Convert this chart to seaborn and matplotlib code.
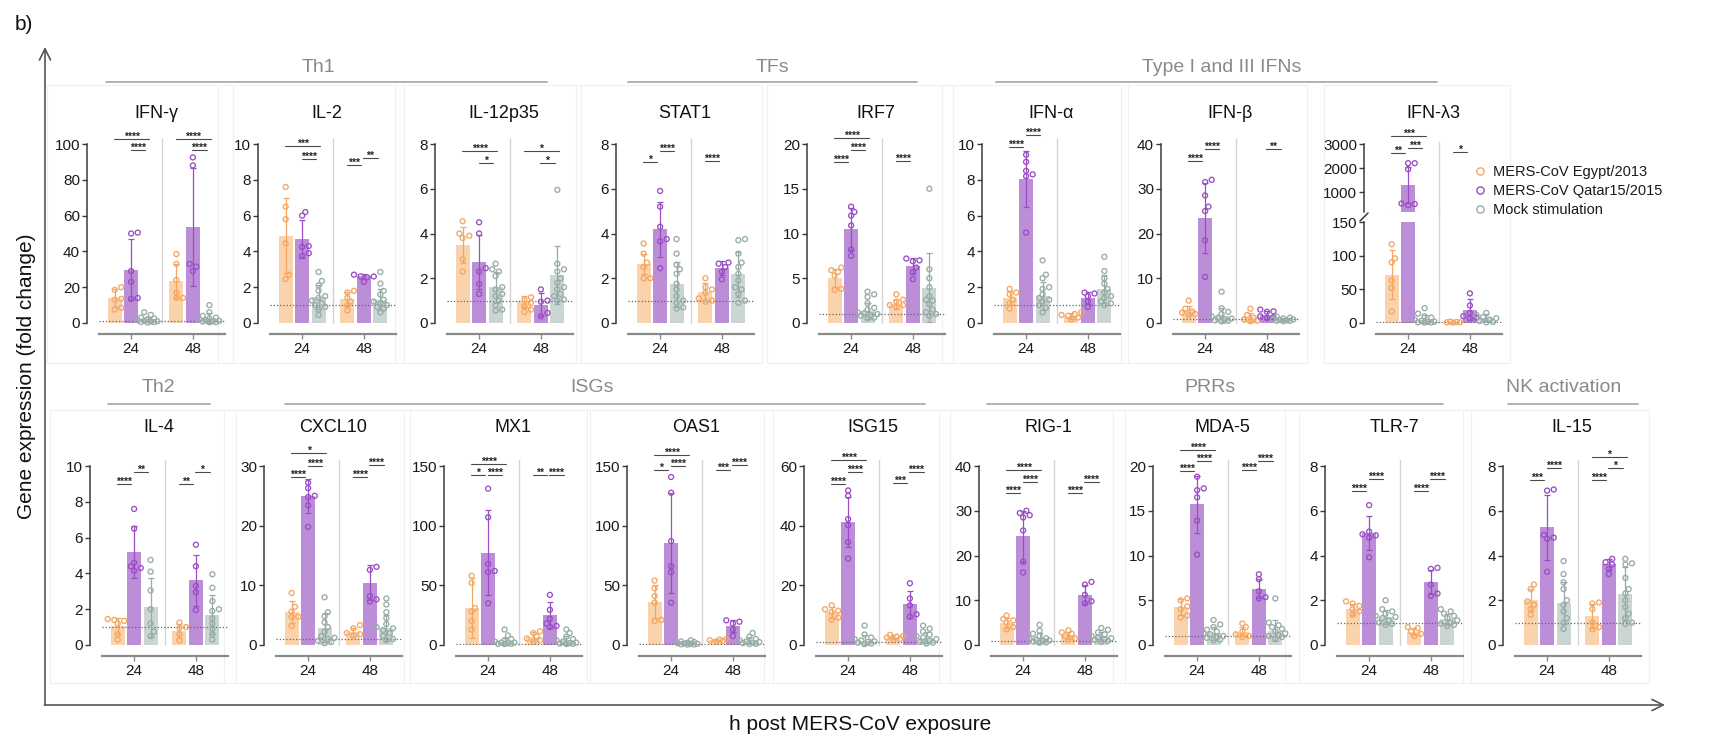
import warnings
warnings.filterwarnings('ignore')
import numpy as np
import pandas as pd
import matplotlib
matplotlib.use('Agg')
import matplotlib.pyplot as plt
from matplotlib.lines import Line2D
from matplotlib.patches import Rectangle
import seaborn as sns

sns.set_style('white')
plt.rcParams['font.family'] = ['Liberation Sans', 'DejaVu Sans']

# ---------------- data ----------------
GROUPS = ['MERS-CoV Egypt/2013', 'MERS-CoV Qatar15/2015', 'Mock stimulation']
TIMES = ['24', '48']
# order inside each gene: Egypt24, Qatar24, Mock24, Egypt48, Qatar48, Mock48

IFNG_PTS = [[20, 18.5, 13.5, 13, 8.5, 7.5], [50.5, 50, 29, 23, 14, 13.5],
            [6, 4.5, 3, 2.5, 2, 1.5, 1.2, 1, 0.8, 0.6, 0.5, 0.3], [38.5, 33, 24, 17, 14, 14],
            [92.5, 88, 33, 31.5, 29], [10, 6, 4, 3, 2.5, 2, 1.5, 1.2, 1, 0.8, 0.5, 0.4]]
IFNG_MEAN = [14, 29.8, 2, 23.3, 53.6, 2.8]
IFNG_SD = [5, 17, 1.6, 9.5, 33, 2.6]
IFNG_SIG = [(0, 0, 2, 102.6, '****'), (0, 1, 2, 96.8, '****'), (1, 0, 2, 103, '****'), (1, 1, 2, 96.8, '****')]

IL2_PTS = [[7.6, 6.5, 5.8, 4.45, 2.7, 2.45], [6.2, 6.0, 4.3, 4.25, 3.9, 3.75],
           [2.85, 2.35, 2.1, 1.8, 1.5, 1.4, 1.25, 1.1, 1.0, 0.9, 0.75, 0.45], [1.8, 1.7, 1.4, 1.2, 1.0, 0.7],
           [2.7, 2.6, 2.6, 2.55, 2.3], [2.85, 2.2, 1.8, 1.6, 1.3, 1.2, 1.1, 1.0, 0.9, 0.8, 0.6]]
IL2_MEAN = [4.88, 4.7, 1.45, 1.35, 2.6, 1.3]
IL2_SD = [2.1, 1.05, 0.65, 0.4, 0.15, 0.6]
IL2_SIG = [(0, 0, 2, 9.87, '***'), (0, 1, 2, 9.18, '****'), (1, 0, 1, 8.85, '***'), (1, 1, 2, 9.22, '**')]

IL12_PTS = [[4.55, 4.0, 3.9, 3.8, 2.85, 2.3], [4.5, 4.0, 2.45, 2.3, 1.75, 1.3],
            [2.65, 2.4, 2.3, 2.1, 1.6, 1.5, 1.3, 1.2, 1.0, 0.8, 0.6, 0.55], [1.15, 1.05, 0.9, 0.75, 0.6, 0.5],
            [1.5, 1.0, 0.95, 0.45, 0.3], [5.95, 2.65, 2.4, 2.3, 2.0, 1.8, 1.6, 1.5, 1.3, 1.2, 1.05, 1.0]]
IL12_MEAN = [3.5, 2.72, 1.6, 0.97, 0.82, 2.15]
IL12_SD = [0.8, 1.2, 0.7, 0.25, 0.5, 1.3]
IL12_SIG = [(0, 0, 2, 7.7, '****'), (0, 1, 2, 7.14, '*'), (1, 0, 2, 7.7, '*'), (1, 1, 2, 7.17, '*')]

STAT1_PTS = [[3.55, 3.1, 2.7, 2.5, 2.0, 2.0], [5.9, 5.2, 4.3, 3.75, 3.65, 2.45],
             [3.75, 3.1, 2.6, 2.4, 2.2, 1.75, 1.5, 1.2, 1.0, 0.9, 0.7, 0.65], [2.0, 1.6, 1.5, 1.35, 1.1, 1.0, 0.95],
             [2.7, 2.65, 2.5, 2.3, 1.95], [3.75, 3.7, 3.1, 2.7, 2.5, 2.2, 1.9, 1.6, 1.5, 1.3, 1.0, 0.9]]
STAT1_MEAN = [2.65, 4.18, 1.73, 1.4, 2.45, 2.18]
STAT1_SD = [0.45, 1.25, 1.0, 0.4, 0.3, 1.0]
STAT1_SIG = [(0, 0, 1, 7.19, '*'), (0, 1, 2, 7.7, '****'), (1, 0, 1, 7.22, '****')]

IRF7_PTS = [[6.2, 5.9, 5.7, 5.3, 3.8, 3.7], [13.0, 12.4, 12.0, 10.9, 8.2, 7.5],
            [3.5, 3.2, 2.9, 2.2, 1.7, 1.5, 1.2, 1.1, 1.0, 0.9, 0.8, 0.6, 0.5], [3.2, 2.6, 2.4, 2.0, 2.0, 1.8],
            [7.2, 7.0, 6.9, 6.2, 5.7, 4.9], [15.0, 6.0, 5.0, 4.0, 3.0, 2.6, 2.5, 2.1, 1.5, 1.2, 1.0, 0.8]]
IRF7_MEAN = [5.07, 10.5, 1.3, 2.1, 6.4, 3.95]
IRF7_SD = [1.0, 2.3, 0.9, 0.5, 0.9, 3.85]
IRF7_SIG = [(0, 0, 2, 20.7, '****'), (0, 1, 2, 19.3, '****'), (0, 0, 1, 17.97, '****'), (1, 0, 1, 18.05, '****')]

IFNA_PTS = [[1.9, 1.7, 1.6, 1.3, 1.1, 0.8], [9.4, 9.0, 8.5, 8.3, 8.2, 5.05],
            [3.5, 2.7, 2.5, 2.0, 1.9, 1.6, 1.4, 1.3, 1.2, 1.0, 0.85, 0.6], [0.6, 0.5, 0.45, 0.4, 0.3, 0.2],
            [1.7, 1.65, 1.5, 1.2, 0.9], [3.7, 2.9, 2.5, 2.2, 1.9, 1.7, 1.5, 1.4, 1.2, 1.1, 1.0]]
IFNA_MEAN = [1.4, 8.04, 1.5, 0.4, 1.4, 1.9]
IFNA_SD = [0.4, 1.55, 0.8, 0.15, 0.35, 0.8]
IFNA_SIG = [(0, 0, 1, 9.83, '****'), (0, 1, 2, 10.5, '****')]

IFNB_PTS = [[5.0, 3.2, 2.6, 2.3, 2.0, 1.8], [32.0, 31.5, 28.5, 26.0, 25.0, 18.5, 10.3],
            [7.0, 3.3, 2.5, 2.0, 1.5, 1.2, 1.0, 0.8, 0.6, 0.5, 0.4], [3.2, 1.8, 1.2, 0.8, 0.5, 0.4],
            [3.0, 2.6, 2.5, 1.5, 1.3, 1.1], [1.4, 1.2, 1.0, 0.9, 0.8, 0.7, 0.6, 0.5, 0.5, 0.4]]
IFNB_MEAN = [2.8, 23.5, 1.5, 1.3, 1.8, 0.8]
IFNB_SD = [1.1, 7.8, 1.9, 1.0, 0.8, 0.3]
IFNB_SIG = [(0, 0, 1, 36.2, '****'), (0, 1, 2, 38.9, '****'), (1, 1, 2, 38.9, '**')]

IFNL3_PTS = [[117, 96, 90, 63, 52, 17], [2200, 2200, 1950, 520, 500, 450],
             [22, 14, 10, 8, 5, 3, 2, 1.5, 1, 0.8, 0.5], [2, 1.5, 1, 1, 0.5],
             [44, 26, 15, 10, 8, 7], [15, 12, 9, 7, 5, 3, 1.5, 1]]
IFNL3_MEAN = [72, 1300, 5, 1.2, 19.7, 8]
IFNL3_SD = [36, 750, 6.5, 0.6, 15.5, 5]
IFNL3_SIG = [(0, 0, 2, 3347, '***'), (0, 0, 1, 2625, '**'), (0, 1, 2, 2833, '***'), (1, 0, 1, 2650, '*')]

IL4_PTS = [[1.45, 1.4, 1.35, 1.2, 0.6, 0.3], [7.6, 6.5, 4.6, 4.4, 4.3, 4.15],
           [4.75, 4.1, 3.05, 2.0, 1.2, 0.75, 0.5], [1.25, 1.0, 0.95, 0.6, 0.25],
           [5.6, 4.4, 3.3, 2.95, 1.95], [3.95, 3.2, 2.45, 2.0, 1.9, 1.5, 1.2, 0.9, 0.6, 0.3]]
IL4_MEAN = [1.05, 5.22, 2.1, 0.8, 3.62, 1.7]
IL4_SD = [0.45, 1.45, 1.65, 0.4, 1.42, 1.1]
IL4_SIG = [(0, 0, 1, 9.02, '****'), (0, 1, 2, 9.64, '**'), (1, 0, 1, 8.98, '**'), (1, 1, 2, 9.66, '*')]

CXCL10_PTS = [[8.7, 6.4, 5.6, 4.75, 4.7, 3.2], [27.2, 26.3, 25.0, 24.8, 23.4, 19.8],
              [8.0, 5.5, 4.8, 3.8, 3.0, 2.2, 1.5, 1.2, 1.0, 0.7, 0.5, 0.3], [3.35, 2.8, 2.0, 1.8, 1.6],
              [13.1, 12.6, 8.2, 7.65, 7.3], [7.8, 6.8, 5.5, 4.5, 3.5, 3.0, 2.8, 2.5, 2.0, 1.5, 1.0, 0.8]]
CXCL10_MEAN = [5.5, 25.0, 2.9, 2.1, 10.45, 2.9]
CXCL10_SD = [1.8, 2.9, 2.4, 0.7, 2.9, 2.2]
CXCL10_SIG = [(0, 0, 2, 32.2, '*'), (0, 1, 2, 30.05, '****'), (0, 0, 1, 28.2, '****'),
              (1, 0, 1, 28.2, '****'), (1, 1, 2, 30.2, '****')]

MX1_PTS = [[58, 52, 31, 28, 20, 13], [131, 107, 68, 62, 61, 35],
           [13, 8, 5, 4, 3, 2, 2, 1.5, 1, 1, 0.8], [11.5, 10, 7, 5.5, 4, 3],
           [42, 29.5, 22, 18, 16, 15], [13, 10, 7, 5, 4, 3, 2, 1.5, 1.2, 1.0, 0.8]]
MX1_MEAN = [31, 77.4, 2.5, 7, 24.9, 4]
MX1_SD = [25, 35.4, 3.5, 3.5, 11, 3.8]
MX1_SIG = [(0, 0, 2, 151.7, '****'), (0, 0, 1, 142.2, '*'), (0, 1, 2, 142.2, '****'),
           (1, 0, 1, 142.5, '**'), (1, 1, 2, 142.5, '****')]

OAS1_PTS = [[54, 47.5, 41, 35.5, 21, 20], [140.8, 127.6, 87, 66, 61, 35.5],
            [4, 3, 2.5, 2, 1.5, 1.2, 1, 0.8, 0.6, 0.5, 0.3], [5, 4.5, 4, 3.5, 3],
            [20.7, 19.5, 18, 13, 7.5], [10, 7, 5, 4, 3, 2.5, 2, 1.5, 1, 0.8]]
OAS1_MEAN = [36.3, 85.7, 2, 4, 16, 3.8]
OAS1_SD = [14, 42, 1.1, 0.8, 5.3, 2.8]
OAS1_SIG = [(0, 0, 2, 159.5, '****'), (0, 0, 1, 146.4, '*'), (0, 1, 2, 150, '****'),
            (1, 0, 1, 146.6, '***'), (1, 1, 2, 150.6, '****')]

ISG15_PTS = [[13.3, 12, 11.5, 11, 9.2, 8.5], [51.8, 50, 42.2, 40.2, 34.5, 29],
             [6.5, 3.5, 2.5, 2, 1.5, 1.2, 1.0, 0.8, 0.5, 0.3], [3.4, 3.0, 2.8, 2.5, 2.0, 1.8],
             [20.7, 15.6, 13.3, 10.3, 9.5], [6.5, 5.5, 4.5, 3.5, 3, 2.5, 2, 1.5, 1, 0.8, 0.5]]
ISG15_MEAN = [11, 41.2, 1.5, 2.6, 13.6, 2.5]
ISG15_SD = [1.8, 8.3, 1.8, 0.6, 4.6, 1.9]
ISG15_SIG = [(0, 0, 2, 62.1, '****'), (0, 1, 2, 57.9, '****'), (0, 0, 1, 53.9, '****'),
             (1, 0, 1, 54.2, '***'), (1, 1, 2, 58.1, '****')]

RIG1_PTS = [[6.6, 5.8, 5.5, 5.0, 4.0, 3.5], [30, 29.5, 29, 28.5, 25.6, 18.6, 16.2],
            [4.5, 3.2, 2.5, 2.0, 1.5, 1.3, 1.2, 1.0, 0.9, 0.8, 0.6, 0.5], [3.3, 2.8, 2.5, 2.0, 1.5, 1.2],
            [14.1, 13.5, 11.2, 9.8, 9.3], [3.8, 3.4, 2.8, 2.4, 2.0, 1.7, 1.5, 1.3, 1.1, 0.9, 0.7]]
RIG1_MEAN = [5.0, 24.3, 1.5, 2.2, 11.2, 2.0]
RIG1_SD = [1.1, 5.7, 1.1, 0.8, 2.1, 1.0]
RIG1_SIG = [(0, 0, 2, 39.1, '****'), (0, 1, 2, 36.4, '****'), (0, 0, 1, 33.9, '****'),
            (1, 0, 1, 34.0, '****'), (1, 1, 2, 36.5, '****')]

MDA5_PTS = [[5.2, 5.0, 4.3, 4.0, 3.3, 3.1], [18.8, 17.5, 17.3, 16.5, 13.9, 10.1],
            [2.8, 2.3, 2.0, 1.7, 1.5, 1.3, 1.2, 1.0, 0.9, 0.8, 0.6, 0.5], [2.4, 2.0, 1.5, 1.2, 1.0, 0.9],
            [7.9, 7.35, 6.0, 5.35, 5.2], [5.2, 2.5, 2.2, 2.0, 1.8, 1.5, 1.3, 1.1, 1.0, 0.9, 0.7]]
MDA5_MEAN = [4.24, 15.7, 1.3, 1.5, 6.3, 1.6]
MDA5_SD = [0.85, 3.2, 0.7, 0.55, 1.1, 1.2]
MDA5_SIG = [(0, 0, 2, 21.8, '****'), (0, 1, 2, 20.56, '****'), (0, 0, 1, 19.4, '****'),
            (1, 0, 1, 19.5, '****'), (1, 1, 2, 20.6, '****')]

TLR7_PTS = [[1.95, 1.85, 1.75, 1.6, 1.5, 1.35], [6.25, 5.07, 4.95, 4.9, 4.8, 3.92],
            [2.0, 1.6, 1.5, 1.4, 1.3, 1.25, 1.2, 1.1, 1.0, 0.95, 0.9], [0.8, 0.75, 0.6, 0.5, 0.4],
            [3.45, 3.4, 2.7, 2.3, 2.2], [1.6, 1.5, 1.4, 1.3, 1.2, 1.1, 1.0, 0.95, 0.9, 0.85]]
TLR7_MEAN = [1.6, 5.0, 1.25, 0.6, 2.82, 1.15]
TLR7_SD = [0.25, 0.75, 0.3, 0.17, 0.55, 0.25]
TLR7_SIG = [(0, 0, 1, 6.88, '****'), (0, 1, 2, 7.4, '****'), (1, 0, 1, 6.9, '****'), (1, 1, 2, 7.43, '****')]

IL15_PTS = [[2.7, 2.5, 1.95, 1.8, 1.6, 1.35], [6.95, 6.9, 4.92, 4.8, 4.75, 3.27],
            [3.75, 3.17, 2.8, 2.5, 2.0, 1.8, 1.5, 1.2, 1.0, 0.72], [1.9, 1.85, 1.6, 1.0, 0.8, 0.7],
            [3.85, 3.7, 3.6, 3.4, 3.17], [3.85, 3.65, 3.6, 3.0, 2.5, 2.3, 2.0, 1.7, 1.4, 1.2, 1.0, 0.95]]
IL15_MEAN = [2.0, 5.27, 1.88, 1.3, 3.6, 2.3]
IL15_SD = [0.5, 1.45, 0.95, 0.55, 0.25, 1.2]
IL15_SIG = [(0, 0, 1, 7.36, '***'), (0, 1, 2, 7.9, '****'), (1, 0, 2, 8.42, '*'),
            (1, 1, 2, 7.9, '*'), (1, 0, 1, 7.36, '****')]

# y-axis ranges (max, tick step)
YAXES = {'IFNG': (100, 20), 'IL2': (10, 2), 'IL12': (8, 2), 'STAT1': (8, 2), 'IRF7': (20, 5),
         'IFNA': (10, 2), 'IFNB': (40, 10), 'IL4': (10, 2), 'CXCL10': (30, 10), 'MX1': (150, 50),
         'OAS1': (150, 50), 'ISG15': (60, 20), 'RIG1': (40, 10), 'MDA5': (20, 5), 'TLR7': (8, 2),
         'IL15': (8, 2)}

DATA = {
    'IFNG': (IFNG_PTS, IFNG_MEAN, IFNG_SD, IFNG_SIG), 'IL2': (IL2_PTS, IL2_MEAN, IL2_SD, IL2_SIG),
    'IL12': (IL12_PTS, IL12_MEAN, IL12_SD, IL12_SIG), 'STAT1': (STAT1_PTS, STAT1_MEAN, STAT1_SD, STAT1_SIG),
    'IRF7': (IRF7_PTS, IRF7_MEAN, IRF7_SD, IRF7_SIG), 'IFNA': (IFNA_PTS, IFNA_MEAN, IFNA_SD, IFNA_SIG),
    'IFNB': (IFNB_PTS, IFNB_MEAN, IFNB_SD, IFNB_SIG), 'IFNL3': (IFNL3_PTS, IFNL3_MEAN, IFNL3_SD, IFNL3_SIG),
    'IL4': (IL4_PTS, IL4_MEAN, IL4_SD, IL4_SIG), 'CXCL10': (CXCL10_PTS, CXCL10_MEAN, CXCL10_SD, CXCL10_SIG),
    'MX1': (MX1_PTS, MX1_MEAN, MX1_SD, MX1_SIG), 'OAS1': (OAS1_PTS, OAS1_MEAN, OAS1_SD, OAS1_SIG),
    'ISG15': (ISG15_PTS, ISG15_MEAN, ISG15_SD, ISG15_SIG), 'RIG1': (RIG1_PTS, RIG1_MEAN, RIG1_SD, RIG1_SIG),
    'MDA5': (MDA5_PTS, MDA5_MEAN, MDA5_SD, MDA5_SIG), 'TLR7': (TLR7_PTS, TLR7_MEAN, TLR7_SD, TLR7_SIG),
    'IL15': (IL15_PTS, IL15_MEAN, IL15_SD, IL15_SIG),
}

TOP = [('IFNG', 'IFN-γ', 99), ('IL2', 'IL-2', 270), ('IL12', 'IL-12p35', 447), ('STAT1', 'STAT1', 628),
       ('IRF7', 'IRF7', 819), ('IFNA', 'IFN-α', 994), ('IFNB', 'IFN-β', 1173), ('IFNL3', 'IFN-λ3', 1376)]
BOTTOM = [('IL4', 'IL-4', 102), ('CXCL10', 'CXCL10', 276), ('MX1', 'MX1', 456), ('OAS1', 'OAS1', 639),
          ('ISG15', 'ISG15', 816), ('RIG1', 'RIG-1', 991), ('MDA5', 'MDA-5', 1165), ('TLR7', 'TLR-7', 1337),
          ('IL15', 'IL-15', 1515)]
# label, text centre, line start, line end, row
GROUP_LABELS = [('Th1', 318, 106, 547, 0), ('TFs', 772, 628, 917, 0),
                ('Type I and III IFNs', 1222, 996, 1437, 0),
                ('Th2', 158, 108, 210, 1), ('ISGs', 592, 285, 925, 1), ('PRRs', 1210, 987, 1443, 1),
                ('NK activation', 1564, 1508, 1638, 1)]

BAR_COLORS = dict(zip(GROUPS, ['#FAD3AC', '#BD8ED8', '#CBD6D4']))
PT_COLORS = dict(zip(GROUPS, ['#F4A762', '#9A4DC5', '#97ACA7']))

# ---------------- layout ----------------
W, H = 1714, 741
PW = 126
ROWS = {0: (144, 323), 1: (466, 645)}
TITLE_Y = {0: 113, 1: 427}
GLAB_Y = {0: (68, 82), 1: (388, 404)}
BOX_Y = {0: (85, 363), 1: (410, 683)}

fig = plt.figure(figsize=(W / 100, H / 100), dpi=100)
ov = fig.add_axes([0, 0, 1, 1])
ov.set_xlim(0, W)
ov.set_ylim(H, 0)
ov.axis('off')


def rect(x0, x1, ytop, ybot):
    return [x0 / W, 1 - ybot / H, (x1 - x0) / W, (ybot - ytop) / H]


def bar_frame(mean):
    return pd.DataFrame({'time': [TIMES[i // 3] for i in range(6)],
                         'group': [GROUPS[i % 3] for i in range(6)], 'mean': mean})


def draw_bars(ax, mean, sd):
    sns.barplot(data=bar_frame(mean), x='time', y='mean', hue='group', order=TIMES, hue_order=GROUPS,
                palette=BAR_COLORS, saturation=1, gap=0.14, errorbar=None, legend=False, ax=ax,
                linewidth=0, zorder=1)
    bars = sorted(ax.patches, key=lambda p: p.get_x())
    centers = [p.get_x() + p.get_width() / 2 for p in bars]
    for i in range(6):
        down = min(sd[i], mean[i])
        ax.errorbar(centers[i], mean[i], yerr=[[down], [sd[i]]], color=PT_COLORS[GROUPS[i % 3]],
                    lw=0.9, capsize=2.4, capthick=0.9, zorder=3)
    return centers


def compact_x(ax, vals, center, step=3.3, mind=4.8):
    """GraphPad-like compact scatter: spread equal values sideways, allow overlap."""
    ys = ax.transData.transform(np.column_stack([np.full(len(vals), center), vals]))[:, 1]
    ppu = ax.transData.transform((1, 0))[0] - ax.transData.transform((0, 0))[0]
    placed, xs = [], np.zeros(len(vals))
    for i in np.argsort(ys):
        best, bestd = 0.0, -1.0
        for k in (0, 1, -1, 2, -2, 3, -3):
            x = k * step
            d = min([np.hypot(x - px, ys[i] - py) for px, py in placed], default=1e9)
            if d >= mind:
                best = x
                break
            if d > bestd:
                best, bestd = x, d
        placed.append((best, ys[i]))
        xs[i] = center + best / ppu
    return xs


def draw_points(ax, pts, centers, lo=None, hi=None):
    xlim, ylim = ax.get_xlim(), ax.get_ylim()
    rows = []
    for i, vals in enumerate(pts):
        vals = [v for v in vals if (lo is None or v > lo) and (hi is None or v <= hi)]
        if not vals:
            continue
        for x, v in zip(compact_x(ax, vals, centers[i]), vals):
            rows.append((x, v, GROUPS[i % 3]))
    df = pd.DataFrame(rows, columns=['x', 'value', 'group'])
    n0 = len(ax.collections)
    sns.scatterplot(data=df, x='x', y='value', hue='group', hue_order=GROUPS, palette=PT_COLORS,
                    s=13, legend=False, ax=ax, zorder=4)
    for c in ax.collections[n0:]:
        fc = c.get_facecolors()
        c.set_edgecolors(fc)
        c.set_facecolors('none')
        c.set_linewidth(0.95)
        c.set_clip_on(False)
    ax.set_xlim(xlim)
    ax.set_ylim(ylim)
    ax.set_xlabel('')
    ax.set_ylabel('')


def style_axis(ax, ymin, ymax, ticks, bottom=True):
    ax.set_xlim(-0.52, 1.52)
    ax.set_ylim(ymin, ymax)
    ax.set_yticks(ticks)
    ax.set_xticks([0, 1])
    ax.set_xticklabels(TIMES)
    ax.set_xlabel('')
    ax.set_ylabel('')
    ax.patch.set_alpha(0)
    for s in ('top', 'right'):
        ax.spines[s].set_visible(False)
    ax.spines['left'].set_position(('outward', 8.6))
    ax.spines['left'].set_bounds(ymin, ymax)
    ax.spines['left'].set_color('#3a3a3a')
    ax.spines['left'].set_linewidth(1.1)
    ax.tick_params(axis='y', left=True, length=3.5, width=1.0, color='#3a3a3a', labelsize=11,
                   labelcolor='#1a1a1a', pad=1.5)
    if bottom:
        ax.spines['bottom'].set_position(('outward', 7.9))
        ax.spines['bottom'].set_color('#8a8a8a')
        ax.spines['bottom'].set_linewidth(1.6)
        ax.tick_params(axis='x', bottom=True, length=3.5, width=1.0, color='#8a8a8a', labelsize=11,
                       labelcolor='#1a1a1a', pad=2)
    else:
        ax.spines['bottom'].set_visible(False)
        ax.tick_params(axis='x', bottom=False, labelbottom=False)


def draw_sig(ax, centers, sig):
    for t, a, b, y, lab in sig:
        xa = centers[t * 3 + a] - 0.01
        xb = centers[t * 3 + b] + (0.03 if b - a == 2 else -0.045)
        ax.plot([xa, xb], [y, y], color='#4a4a4a', lw=0.8, clip_on=False, zorder=5)
        ax.annotate(lab, ((xa + xb) / 2, y), xytext=(0, -0.6), textcoords='offset points',
                    ha='center', va='baseline', fontsize=7.5, fontweight='bold', color='#222222',
                    annotation_clip=False)


def guides(ax, ymax_line, ylow=0, dotted=True):
    ax.plot([0.5, 0.5], [ylow, ymax_line], color='#d4d4d4', lw=1.0, zorder=0, clip_on=False)
    if dotted:
        ax.axhline(1, color='#666666', ls=(0, (1, 1.6)), lw=0.9, zorder=2)


for row, panels in ((0, TOP), (1, BOTTOM)):
    ytop, ybot = ROWS[row]
    for key, title, x0 in panels:
        pts, mean, sd, sig = DATA[key]
        ov.add_patch(Rectangle((x0 - 52, BOX_Y[row][0]), PW + 60, BOX_Y[row][1] - BOX_Y[row][0],
                               fill=False, edgecolor='#f0f0f0', lw=0.8))
        ov.text(x0 + PW / 2 - 6, TITLE_Y[row], title, ha='center', va='center', fontsize=13,
                color='#111111')
        if key == 'IFNL3':
            ax_lo = fig.add_axes(rect(x0, x0 + PW, 222, ybot))
            c_lo = draw_bars(ax_lo, mean, sd)
            style_axis(ax_lo, 0, 150, [0, 50, 100, 150])
            draw_points(ax_lo, pts, c_lo, hi=150)
            guides(ax_lo, 170)
            ax_hi = fig.add_axes(rect(x0, x0 + PW, ytop, 212))
            c_hi = draw_bars(ax_hi, mean, sd)
            style_axis(ax_hi, 167, 3000, [1000, 2000, 3000], bottom=False)
            draw_points(ax_hi, pts, c_hi, lo=150)
            guides(ax_hi, 3100, ylow=167, dotted=False)
            draw_sig(ax_hi, c_hi, sig)
            ov.plot([x0 - 16, x0 - 8], [221, 213], color='#3a3a3a', lw=1.1)
            continue
        ymax, step = YAXES[key]
        ax = fig.add_axes(rect(x0, x0 + PW, ytop, ybot))
        centers = draw_bars(ax, mean, sd)
        style_axis(ax, 0, ymax, list(np.arange(0, ymax + step / 2, step)))
        draw_points(ax, pts, centers)
        guides(ax, ymax * 1.035)
        draw_sig(ax, centers, sig)

for lab, xc, x0, x1, row in GROUP_LABELS:
    ty, ly = GLAB_Y[row]
    ov.text(xc, ty, lab, ha='center', va='center', fontsize=14, color='#8a8a8a')
    ov.plot([x0, x1], [ly, ly], color='#ababab', lw=1.3)

# outer arrows and labels
ov.annotate('', xy=(45, 47), xytext=(45, 705),
            arrowprops=dict(arrowstyle='->', color='#555555', lw=1.2, mutation_scale=20, shrinkA=0, shrinkB=0))
ov.annotate('', xy=(1665, 705), xytext=(44.4, 705),
            arrowprops=dict(arrowstyle='->', color='#555555', lw=1.2, mutation_scale=20, shrinkA=0, shrinkB=0))
ov.text(15, 24, 'b)', ha='left', va='center', fontsize=15, color='#111111')
ov.text(27, 376, 'Gene expression (fold change)', rotation=90, ha='center', va='center', fontsize=15,
        color='#111111')
ov.text(860, 725, 'h post MERS-CoV exposure', ha='center', va='center', fontsize=15, color='#111111')

handles = [Line2D([], [], marker='o', ls='', mfc='none', mec=PT_COLORS[g], mew=1.0, ms=5.2) for g in GROUPS]
fig.legend(handles, GROUPS, loc='upper left', bbox_to_anchor=(1474 / W, 1 - 165 / H), frameon=False,
           fontsize=10.5, handlelength=0.8, handletextpad=0.5, labelspacing=0.36, borderaxespad=0,
           borderpad=0, labelcolor='#1a1a1a')

fig.savefig('out.png', dpi=100)
